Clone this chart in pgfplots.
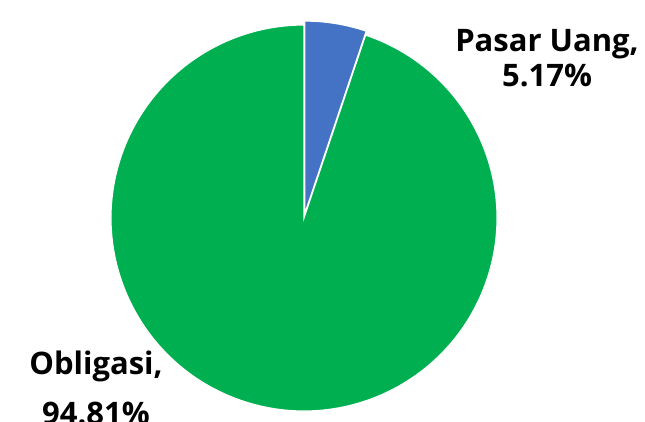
\documentclass[border=0pt]{standalone}
\usepackage{pgfplots}
\usepackage{pgfplotstable}
\pgfplotsset{compat=1.18}
\usepackage{fontspec}
\setmainfont{Open Sans}
\definecolor{PieGreen}{HTML}{00B050}
\definecolor{PieBlue}{HTML}{4472C4}

% share of each slice, percent
\pgfplotstableread{
label   share
Pasar   5.17
Obligasi 94.81
}\piedata

\begin{document}
\begin{tikzpicture}
\pgfplotstablegetelem{0}{share}\of\piedata \let\shareA\pgfplotsretval
\pgfplotstablegetelem{1}{share}\of\piedata \let\shareB\pgfplotsretval
\pgfmathsetmacro\angA{90-3.6*\shareA}
\pgfmathsetmacro\midA{90-1.8*\shareA}
\useasboundingbox (0,0) rectangle (645bp,422bp);
\begin{axis}[
    at={(0,0)}, anchor=origin,
    scale only axis,
    width=645bp, height=422bp,
    xmin=0, xmax=645, ymin=0, ymax=422,
    hide axis, clip=false,
  ]
  % green slice (the rest of the circle)
  \fill[PieGreen, draw=white, line width=1.2bp]
    (axis cs:304,204) -- ++(\angA:193bp) arc[start angle=\angA, end angle=-270, radius=193bp] -- cycle;
  % blue slice, pulled out a little
  \fill[PieBlue, draw=white, line width=1.2bp, shift={(\midA:4bp)}]
    (axis cs:304,204) -- ++(90:193bp) arc[start angle=90, end angle=\angA, radius=193bp] -- cycle;

  \node[align=center, font=\fontsize{31bp}{35bp}\selectfont\bfseries, anchor=base]
    at (axis cs:547,335) {Pasar Uang,\\ \pgfmathprintnumber[assume math mode=true,fixed,precision=2,fixed zerofill]{\shareA}\%};
  \node[align=center, font=\fontsize{31bp}{50bp}\selectfont\bfseries, anchor=base]
    at (axis cs:96,-2) {Obligasi,\\ \pgfmathprintnumber[assume math mode=true,fixed,precision=2,fixed zerofill]{\shareB}\%};
\end{axis}
\end{tikzpicture}
\end{document}
